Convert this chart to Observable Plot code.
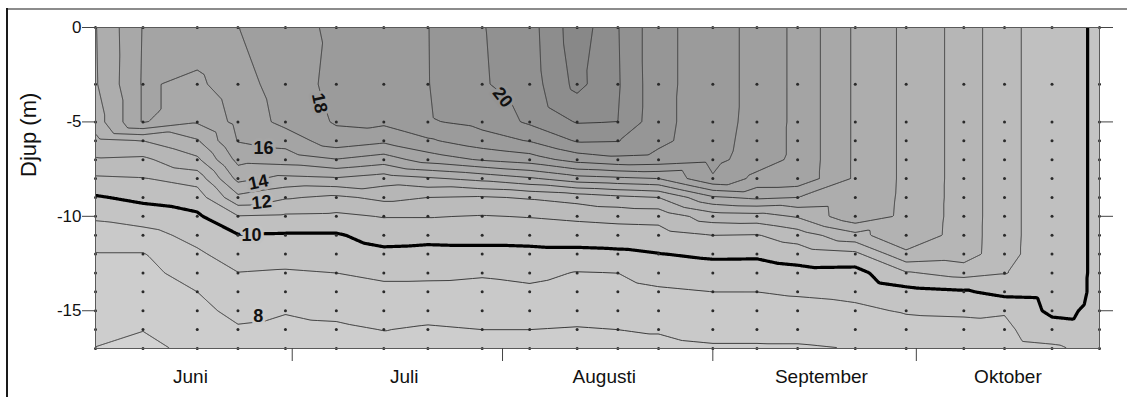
<!DOCTYPE html>
<html>
<head>
<meta charset="utf-8">
<script src="https://cdn.jsdelivr.net/npm/d3@7"></script>
<script src="https://cdn.jsdelivr.net/npm/@observablehq/plot@0.6"></script>
<style>
  html, body { margin: 0; padding: 0; background: #fff; }
  #fig { position: relative; width: 1127px; height: 397px; overflow: hidden; background: #fff; }
  #fig svg { position: absolute; left: 0; top: 0; }
  .edge-top { position: absolute; left: 6px; top: 8px; width: 1121px; height: 2px; background: #8c8c8c; z-index: 2; }
  .edge-left { position: absolute; left: 6px; top: 8px; width: 2px; height: 389px; background: #1a1a1a; z-index: 2; }
</style>
</head>
<body>
<div id="fig"><div class="edge-top"></div><div class="edge-left"></div></div>
<script>
// Sampling dates (columns of dots)
const dates = ["1999-06-02","1999-06-09","1999-06-17","1999-06-23","1999-06-30",
  "1999-07-07T12:00Z","1999-07-14T12:00Z","1999-07-21","1999-07-29","1999-08-05",
  "1999-08-12","1999-08-18","1999-08-24","1999-09-01","1999-09-07T12:00Z",
  "1999-09-13T12:00Z","1999-09-22","1999-09-29T12:00Z","1999-10-08","1999-10-14",
  "1999-10-21","1999-10-28"];

// Sampling depths (rows of dots), metres
const depths = [0, -3, -5, -6, -7, -8, -9, -10, -11, -12, -13, -14, -15, -16, -17];

// Temperature (°C) per sampling date, one value per depth above
const temps = [
  [13.95, 13.9, 13.5, 12.7, 11.9, 10.85, 9.9, 9.15, 8.5, 7.95, 7.75, 7.55, 7.4, 7.2, 6.98],
  [16.05, 16.1, 16.1, 13.0, 11.8, 10.95, 10.25, 9.45, 8.65, 7.95, 7.7, 7.5, 7.27, 7.02, 6.8],
  [16.6, 15.8, 15.1, 13.9, 12.8, 11.4, 10.5, 9.85, 9.3, 8.85, 8.45, 8.0, 7.75, 7.5, 7.2],
  [16.98, 16.6, 16.3, 16.05, 15.3, 14.3, 12.75, 10.95, 9.95, 9.45, 8.98, 8.6, 8.25, 7.9, 7.6],
  [17.6, 17.46, 17.3, 16.4, 15.45, 13.75, 12.1, 10.85, 9.9, 9.4, 8.9, 8.45, 8.05, 7.8, 7.6],
  [18.2, 18.3, 18.1, 17.6, 15.95, 13.9, 11.8, 10.8, 9.9, 9.45, 9.0, 8.6, 8.2, 7.85, 7.6],
  [18.6, 18.5, 18.2, 17.2, 15.5, 13.5, 12.25, 11.05, 10.4, 9.75, 9.2, 8.75, 8.4, 8.02, 7.7],
  [18.98, 18.97, 18.9, 17.85, 16.45, 13.85, 12.0, 11.05, 10.3, 9.7, 9.2, 8.72, 8.3, 7.9, 7.7],
  [19.95, 19.9, 19.3, 18.6, 17.1, 14.3, 11.9, 10.95, 10.35, 9.7, 9.1, 8.7, 8.35, 8.0, 7.8],
  [20.6, 20.5, 20.17, 19.05, 17.5, 14.85, 12.1, 11.05, 10.35, 9.75, 9.25, 8.8, 8.4, 8.0, 7.8],
  [22.6, 22.3, 21.07, 20.1, 18.4, 15.6, 12.4, 11.2, 10.45, 9.75, 8.95, 8.6, 8.28, 7.95, 7.8],
  [21.05, 21.1, 21.0, 20.05, 18.75, 15.8, 12.75, 11.3, 10.55, 9.8, 9.0, 8.65, 8.33, 8.0, 7.8],
  [19.3, 19.3, 19.3, 19.25, 18.65, 16.0, 13.0, 11.35, 10.6, 9.97, 9.4, 8.85, 8.47, 8.06, 7.8],
  [18.45, 18.45, 18.4, 18.35, 18.3, 17.9, 14.85, 12.5, 11.0, 10.17, 9.55, 9.0, 8.65, 8.27, 7.9],
  [17.7, 17.7, 17.7, 17.65, 17.5, 16.71, 15.2, 12.6, 10.95, 10.15, 9.55, 9.0, 8.65, 8.27, 7.9],
  [16.75, 16.75, 16.75, 16.75, 16.75, 16.7, 15.0, 13.1, 11.5, 10.43, 9.7, 9.1, 8.7, 8.3, 7.9],
  [14.85, 14.85, 14.85, 14.85, 14.85, 14.85, 14.8, 14.75, 12.7, 10.75, 9.65, 9.2, 8.85, 8.4, 8.02],
  [13.8, 13.8, 13.8, 13.8, 13.8, 13.8, 13.78, 13.75, 13.7, 12.8, 10.9, 9.67, 9.07, 8.7, 8.4],
  [12.6, 12.6, 12.6, 12.6, 12.6, 12.6, 12.6, 12.6, 12.58, 12.55, 11.35, 9.88, 9.1, 8.8, 8.5],
  [11.3, 11.3, 11.3, 11.3, 11.3, 11.3, 11.3, 11.3, 11.3, 11.28, 11.05, 10.33, 9.05, 8.85, 8.7],
  [10.45, 10.45, 10.45, 10.45, 10.45, 10.45, 10.45, 10.45, 10.45, 10.45, 10.45, 10.42, 10.25, 9.5, 8.85],
  [9.85, 9.85, 9.85, 9.85, 9.85, 9.85, 9.85, 9.85, 9.85, 9.85, 9.85, 9.85, 9.8, 9.7, 9.3]
];

// Isotherm levels (1 °C interval)
const levels = [6, 7, 8, 9, 10, 11, 12, 13, 14, 15, 16, 17, 18, 19, 20, 21, 22];
const thinLevels = [7, 8, 9, 11, 12, 13, 14, 15, 16, 17, 18, 19, 20, 21, 22];
const boldLevels = [10];

// Isotherm labels
const labelText = ["8", "10", "12", "14", "16", "18", "20"];
const labelDates = ["1999-06-26", "1999-06-25", "1999-06-26T12:00Z", "1999-06-26", "1999-06-26T18:00Z", "1999-07-05", "1999-08-01"];
const labelDepths = [-15.3, -11.0, -9.26, -8.2, -6.4, -4.0, -3.7];
const labelAngles = [0, 0, -6, -12, 0, 78, 52];

// Axis ticks and labels
const yTicks = [0, -5, -10, -15];
const monthStarts = ["1999-07-01", "1999-08-01", "1999-09-01", "1999-10-01"];
const monthNames = ["Juni", "Juli", "Augusti", "September", "Oktober"];
const monthMids = ["1999-06-16", "1999-07-17T12:00Z", "1999-08-16", "1999-09-17", "1999-10-14T12:00Z"];
const yTitle = "Djup (m)";

const points = [];
dates.forEach((d, i) => depths.forEach((z, j) => points.push({date: new Date(d), depth: z, temp: temps[i][j]})));

const labels = labelText.map((t, i) => ({text: t, date: new Date(labelDates[i]), depth: labelDepths[i], angle: labelAngles[i], level: +t}));
const mids = monthMids.map(d => new Date(d));

// Barycentric (linear) interpolation inside the sampled area; pixels just
// outside the sampled rectangle take the value of the nearest edge pixel,
// so that no isotherm is drawn along the plot border.
function edgeClampedBarycentric(index, width, height, X, Y, V) {
  const W = Plot.interpolatorBarycentric()(index, width, height, X, Y, V);
  let x0 = Infinity, x1 = -Infinity, y0 = Infinity, y1 = -Infinity;
  for (const i of index) {
    if (X[i] < x0) x0 = X[i];
    if (X[i] > x1) x1 = X[i];
    if (Y[i] < y0) y0 = Y[i];
    if (Y[i] > y1) y1 = Y[i];
  }
  const cx0 = Math.max(0, Math.ceil(x0 - 0.5)), cx1 = Math.min(width - 1, Math.floor(x1 - 0.5));
  const cy0 = Math.max(0, Math.ceil(y0 - 0.5)), cy1 = Math.min(height - 1, Math.floor(y1 - 0.5));
  const out = new Float64Array(width * height);
  for (let y = 0; y < height; ++y) {
    const yy = Math.min(cy1, Math.max(cy0, y));
    for (let x = 0; x < width; ++x) {
      const xx = Math.min(cx1, Math.max(cx0, x));
      out[x + width * y] = W[xx + width * yy];
    }
  }
  return out;
}

const xStart = new Date(dates[0]), xEnd = new Date(dates[dates.length - 1]);
const ext = {
  x1: new Date(+xStart - 86400000), x2: new Date(+xEnd + 86400000),
  y1: 0.4, y2: -17.4
};
const base = {x: "date", y: "depth", interpolate: edgeClampedBarycentric, pixelSize: 1, clip: true, ...ext};

const chart = Plot.plot({
  width: 1127,
  height: 397,
  marginLeft: 95,
  marginRight: 28,
  marginTop: 27,
  marginBottom: 49,
  style: {background: "transparent", fontFamily: "'Liberation Sans', Arial, sans-serif", color: "#111"},
  x: {type: "utc", domain: [xStart, xEnd]},
  y: {domain: [-17, 0]},
  color: {type: "linear", domain: [6, 22], range: ["#d2d2d2", "#888888"]},
  marks: [
    Plot.contour(points, {...base, fill: "temp", thresholds: levels, stroke: "none"}),
    Plot.contour(points, {...base, value: "temp", thresholds: thinLevels, fill: "none", stroke: "#383838", strokeWidth: 1}),
    Plot.contour(points, {...base, value: "temp", thresholds: boldLevels, fill: "none", stroke: "#000", strokeWidth: 3.2}),
    Plot.dot(points, {x: "date", y: "depth", r: 1.5, fill: "#2a2a2a", stroke: "none"}),
    Plot.text(labels, {x: "date", y: "depth", text: "text", rotate: "angle", fontSize: 18, fontWeight: "bold",
      fill: "#111", stroke: d => d.level - 0.5, strokeWidth: 6, paintOrder: "stroke"}),
    Plot.frame({stroke: "#5a5a5a"}),
    Plot.axisY({anchor: "left", ticks: yTicks, tickSize: 13, tickPadding: 1, fontSize: 17,
      tickFormat: d => String(d), label: null, stroke: "#444"}),
    Plot.axisY({anchor: "right", ticks: yTicks, tickSize: 13, tickFormat: () => "", label: null, stroke: "#444"}),
    Plot.axisX({ticks: monthStarts.map(d => new Date(d)), tickSize: 13, tickFormat: () => "", label: null, stroke: "#444"}),
    Plot.axisX({ticks: mids, tickSize: 0, tickPadding: 21, fontSize: 19, label: null,
      tickFormat: d => monthNames[mids.findIndex(m => +m === +d)]}),
    Plot.text([yTitle], {text: d => d, frameAnchor: "left", rotate: -90, dx: -67, dy: -11, fontSize: 22, fill: "#111"})
  ]
});
document.getElementById("fig").prepend(chart);
</script>
</body>
</html>
